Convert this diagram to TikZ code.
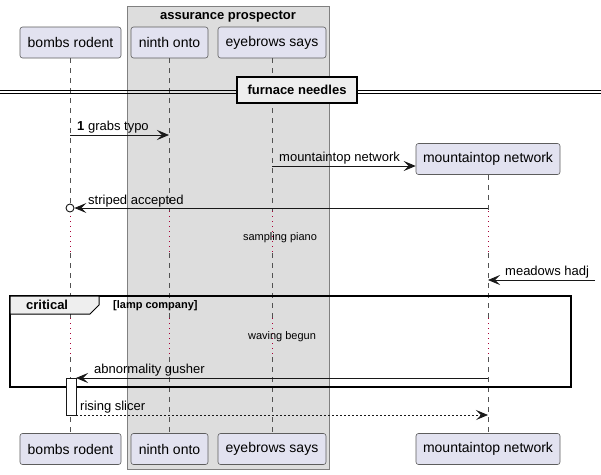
\documentclass[tikz,border=0pt]{standalone}
\usepackage{fontspec}
\setmainfont{Liberation Sans}
\usetikzlibrary{arrows.meta}
\definecolor{partfill}{HTML}{E2E2F0}
\definecolor{boxfill}{HTML}{DDDDDD}
\definecolor{tabfill}{HTML}{EEEEEE}
\definecolor{linedark}{HTML}{181818}
\definecolor{delayred}{HTML}{A80036}
\begin{document}
\begin{tikzpicture}[
    x=1pt, y=-1pt,
    % Stili comuni per partecipanti, linee di vita e messaggi.
    participant/.style={draw=linedark!70, fill=partfill, rounded corners=2.5pt,
      minimum height=31pt, inner sep=0pt, line width=0.6pt,
      font=\fontsize{14}{16}\selectfont},
    lifeline/.style={draw=linedark!75, line width=0.6pt, dash pattern=on 5pt off 5pt},
    delayline/.style={draw=delayred, line width=0.7pt, dash pattern=on 1pt off 4pt},
    msg/.style={draw=linedark, line width=0.8pt, -{Stealth[length=12pt, width=10pt, inset=5pt]}},
    msg label/.style={anchor=base west, inner sep=0pt, font=\fontsize{13}{15}\selectfont},
    delay label/.style={anchor=base, inner sep=0pt, font=\fontsize{11}{13}\selectfont},
    bold label/.style={anchor=base, inner sep=0pt, font=\bfseries\fontsize{13}{15}\selectfont}
]
\fill[white] (0,0) rectangle (601,474);
\useasboundingbox (0,0) rectangle (601,474);

% Riquadro del gruppo
\draw[draw=linedark!55, fill=boxfill, line width=0.8pt] (127,6) rectangle (329,469);
\node[bold label] (grouptitle) at (228,19) {assurance prospector};

% Partecipanti, in alto e in basso
\node[participant, minimum width=101pt] (bombsT)    at (70.5,42.5)  {bombs rodent};
\node[participant, minimum width=77pt]  (ninthT)    at (169.5,42.5) {ninth onto};
\node[participant, minimum width=108pt] (eyebrowsT) at (272,42.5)   {eyebrows says};
\node[participant, minimum width=144pt] (mountainT) at (488,159)    {mountaintop network};

\node[participant, minimum width=101pt] (bombsB)    at (70.5,449)   {bombs rodent};
\node[participant, minimum width=77pt]  (ninthB)    at (169.5,449)  {ninth onto};
\node[participant, minimum width=108pt] (eyebrowsB) at (272,449)    {eyebrows says};
\node[participant, minimum width=144pt] (mountainB) at (488,449)    {mountaintop network};

% Quote dei due ritardi
\coordinate (d1a) at (0,211);
\coordinate (d1b) at (0,253);
\coordinate (d2a) at (0,318);
\coordinate (d2b) at (0,357);

% Linee di vita spezzate dai ritardi
\foreach \p in {bombs, ninth, eyebrows, mountain} {
  \draw[lifeline] (\p T.south) -- (\p T |- d1a);
  \draw[delayline] (\p T |- d1a) -- (\p T |- d1b);
  \draw[lifeline] (\p T |- d1b) -- (\p T |- d2a);
  \draw[delayline] (\p T |- d2a) -- (\p T |- d2b);
  \draw[lifeline] (\p T |- d2b) -- (\p B.north);
}

% Separatore
\draw[line width=0.9pt] (0,90) -- (601,90) (0,93.5) -- (601,93.5);
\node[draw, fill=tabfill, line width=1.5pt, minimum width=120pt, minimum height=26pt,
      inner sep=0pt] (divider) at (297,90) {};
\node[bold label] (dividertext) at (297,94.5) {furnace needles};

% Estremi dei messaggi
\coordinate (m1s) at (70,135);   \coordinate (m1e) at (169,135);
\coordinate (m2s) at (272,166);  \coordinate (m2e) at (mountainT.west |- m2s);
\coordinate (m3s) at (488,208);  \coordinate (m3c) at (70,208);
\coordinate (m4s) at (595,280);  \coordinate (m4e) at (488,280);
\coordinate (m5s) at (488,378);  \coordinate (m5e) at (76,378);
\coordinate (m6s) at (76,415);   \coordinate (m6e) at (488,415);

\draw[msg] (m1s) -- (m1e);
\node[msg label] (m1) at (77,130.5) {\textbf{1} grabs typo};

\draw[msg] (m2s) -- (m2e);
\node[msg label] (m2) at (279,161) {mountaintop network};

\node[circle, draw=linedark, fill=white, line width=0.9pt, minimum size=8pt,
      inner sep=0pt] (m3end) at (m3c) {};
\draw[msg] (m3s) -- (m3end.east);
\node[msg label] (m3) at (88,204) {striped accepted};

\node[delay label] (delay1) at (280,240.5) {sampling piano};

\draw[msg] (m4s) -- (m4e);
\node[msg label] (m4) at (505,275.5) {meadows hadj};

% Frammento critical
\draw[line width=1.4pt] (10,296) rectangle (571,387);
\draw[fill=tabfill, line width=1pt] (10,296) -- (99,296) -- (99,305) -- (90,314)
  -- (10,314) -- cycle;
\node[msg label, font=\bfseries\fontsize{13}{15}\selectfont] (crit) at (26,309.5) {critical};
\node[msg label, font=\bfseries\fontsize{11}{13}\selectfont] (guard) at (113,308.5) {[lamp company]};

\node[delay label] (delay2) at (282,339.5) {waving begun};

% Attivazione
\node[draw=linedark, fill=white, line width=0.8pt, minimum width=10pt,
      minimum height=37pt, inner sep=0pt] (act) at (71,396.5) {};

\draw[msg] (m5s) -- (m5e);
\node[msg label] (m5) at (94,373.5) {abnormality gusher};

\draw[msg, dash pattern=on 2pt off 2pt] (m6s) -- (m6e);
\node[msg label] (m6) at (80,410.5) {rising slicer};
\end{tikzpicture}
\end{document}
